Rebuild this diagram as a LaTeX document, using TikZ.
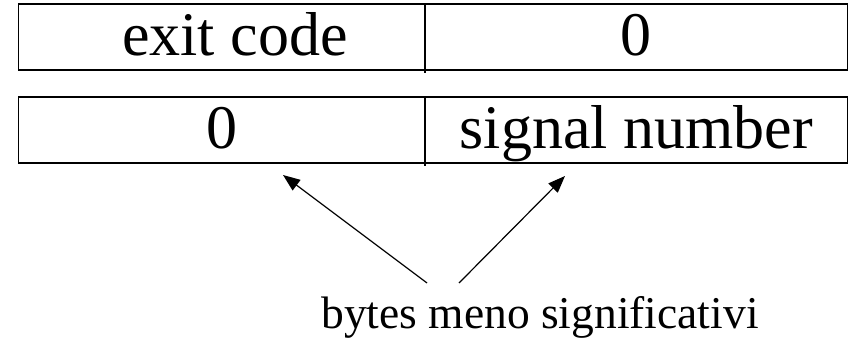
\documentclass[tikz,border=0pt]{standalone}
\usepackage{fontspec}
\setmainfont{Liberation Serif}
\usepackage{tikz}
\usetikzlibrary{positioning,
                arrows.meta}               % arrow tips

\tikzset{
    cell/.style={draw, line width=1.2pt, rectangle, inner sep=0pt, outer sep=0pt,
                 minimum height=66pt, text height=51.5pt, text depth=14.5pt,
                 font=\fontsize{62}{70}\selectfont},
    pointer/.style={-{Triangle[length=17pt,width=13pt]}, line width=1.2pt}
}

\begin{document}
\begin{tikzpicture}[x=1pt,y=-1pt]
        \useasboundingbox (0,0) rectangle (852,340);

        % exit status after normal exit
        \node[cell, minimum width=406.3pt] (exitcode) at (221.85,37) {\hspace{26pt}exit code};
        \node[cell, minimum width=422.3pt, right=0pt of exitcode] (zerohigh) {0};
        \draw[line width=1.2pt] (exitcode.south east) -- ++(0,2.5);

        % exit status after a signal
        \node[cell, minimum width=406.3pt] (zerolow) at (221.85,130) {0};
        \node[cell, minimum width=422.3pt, right=0pt of zerolow] (signum) {signal number};
        \draw[line width=1.2pt] (zerolow.south east) -- ++(0,2.5);

        \node[anchor=base, font=\fontsize{45.5}{52}\selectfont] (lowbytes) at (540,328) {bytes meno significativi};

        \coordinate (leftfrom) at (427,283);
        \coordinate (rightfrom) at (459,283);
        \coordinate (lefttip) at (283,175);
        \coordinate (righttip) at (565,176);

        \draw[pointer] (leftfrom) -- (lefttip);
        \draw[pointer] (rightfrom) -- (righttip);

    \end{tikzpicture}
\end{document}
